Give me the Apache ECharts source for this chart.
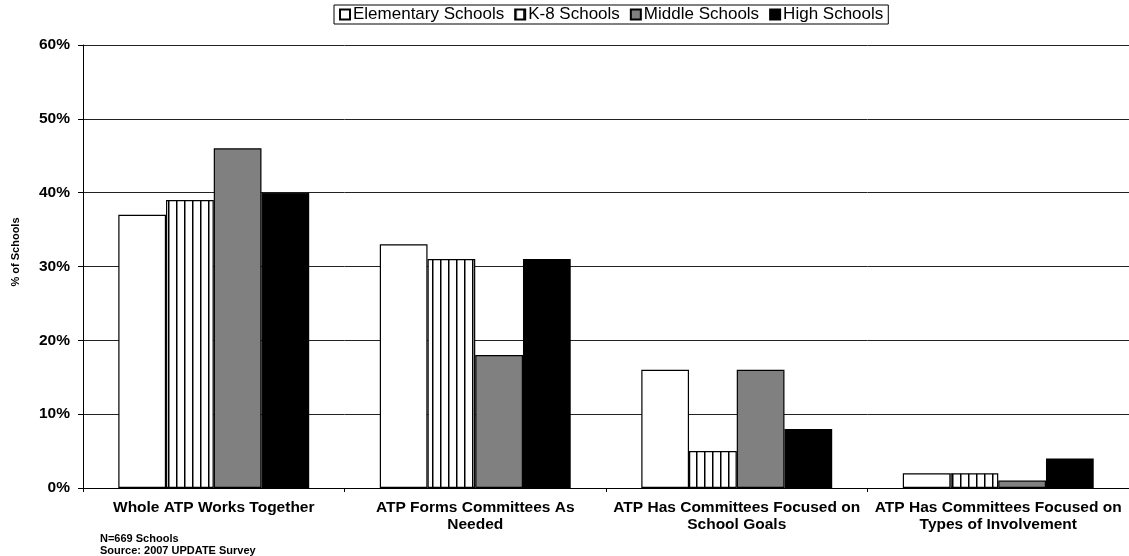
<!DOCTYPE html>
<html><head><meta charset="utf-8">
<script src="https://cdn.jsdelivr.net/npm/echarts@6/dist/echarts.min.js"></script>
<style>html,body{margin:0;padding:0;background:#fff}#c{width:1129px;height:556px}</style>
</head><body><div id="c"></div>
<script>
const categories = ['Whole ATP Works Together', 'ATP Forms Committees As\nNeeded', 'ATP Has Committees Focused on\nSchool Goals', 'ATP Has Committees Focused on\nTypes of Involvement'];
const seriesNames = ['Elementary Schools', 'K-8 Schools', 'Middle Schools', 'High Schools'];
const elementary = [37, 33, 16, 2];
const k8 = [39, 31, 5, 2];
const middle = [46, 18, 16, 1];
const high = [40, 31, 8, 4];
const yTicks = [0, 10, 20, 30, 40, 50, 60];

const pc = document.createElement('canvas');
pc.width = 8; pc.height = 8;
const ctx = pc.getContext('2d');
ctx.fillStyle = '#fff'; ctx.fillRect(0, 0, 8, 8);
ctx.fillStyle = '#000'; ctx.fillRect(0, 0, 1.5, 8);
const stripe = { image: pc, repeat: 'repeat' };

const fills = ['#ffffff', stripe, '#808080', '#000000'];
const values = [elementary, k8, middle, high];
const font = 'Liberation Sans, Arial, sans-serif';

const chart = echarts.init(document.getElementById('c'), null, { renderer: 'canvas' });
chart.setOption({
  animation: false,
  backgroundColor: '#fff',
  legend: {
    top: 5, left: 334,
    data: seriesNames.map((n, i) => ({ name: n, icon: 'rect' })),
    borderColor: '#000', borderWidth: 1,
    padding: [1, 5, 1, 5],
    itemGap: 10, itemWidth: 10, itemHeight: 10,
    textStyle: { fontFamily: font, fontSize: 17, color: '#000', padding: [0, 0, 0, -2] }
  },
  grid: { left: 83, right: -2, top: 45, bottom: 68 },
  xAxis: {
    type: 'category', data: categories,
    axisLine: { lineStyle: { color: '#000', width: 1 } },
    axisTick: { show: true, length: 4, lineStyle: { color: '#000' } },
    axisLabel: { fontFamily: font, fontWeight: 'bold', fontSize: 15.5, color: '#000', margin: 11, lineHeight: 17, interval: 0 }
  },
  yAxis: {
    type: 'value', min: 0, max: 60, interval: 10,
    axisLine: { show: true, lineStyle: { color: '#000' } },
    axisTick: { show: true, length: 5, lineStyle: { color: '#000' } },
    splitLine: { lineStyle: { color: '#222', width: 1 } },
    axisLabel: { fontFamily: font, fontWeight: 'bold', fontSize: 15.5, color: '#000', margin: 13,
      formatter: v => yTicks.includes(v) ? v + '%' : '' }
  },
  series: seriesNames.map((n, i) => ({
    name: n, type: 'bar', data: values[i],
    barGap: '0%', barCategoryGap: '27%',
    itemStyle: { color: fills[i], borderColor: '#000', borderWidth: 1.2 }
  })),
  graphic: [
    { type: 'text', x: 16, y: 252, rotation: Math.PI / 2,
      style: { text: '% of Schools', font: 'bold 11px ' + font, fill: '#000', align: 'center', verticalAlign: 'middle' } },
    { type: 'text', left: 100, top: 533, style: { text: 'N=669 Schools\nSource: 2007 UPDATE Survey', font: 'bold 11px ' + font, fill: '#000', lineHeight: 12 } }
  ]
});
</script></body></html>
